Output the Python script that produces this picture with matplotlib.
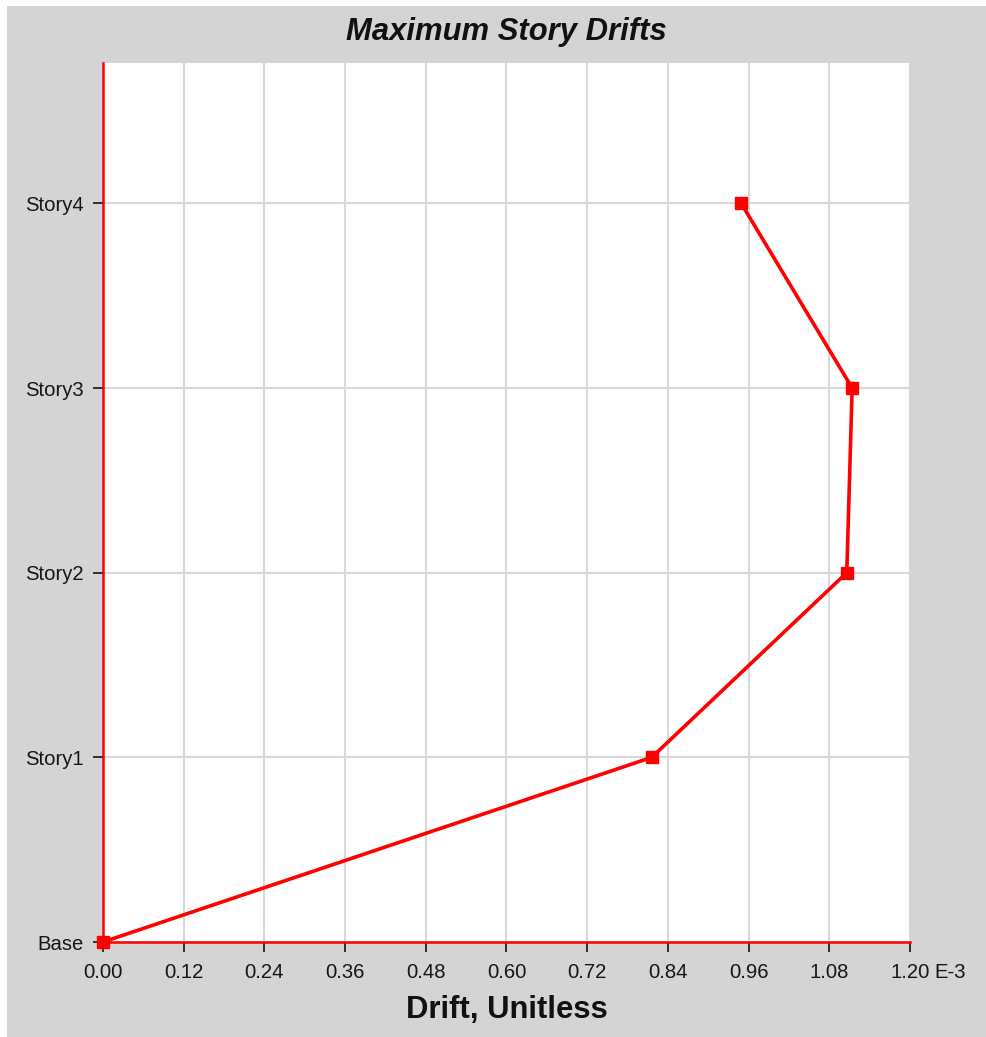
import matplotlib
matplotlib.use("Agg")
import matplotlib.pyplot as plt
from matplotlib.patches import Rectangle

plt.rcParams['font.family'] = ['Liberation Sans', 'DejaVu Sans']

# Data
stories = ["Base", "Story1", "Story2", "Story3", "Story4"]
drift = [0.0, 0.816, 1.106, 1.114, 0.949]   # x 1E-3
x_ticks = [0.00, 0.12, 0.24, 0.36, 0.48, 0.60, 0.72, 0.84, 0.96, 1.08, 1.20]
x_tick_labels = ["0.00", "0.12", "0.24", "0.36", "0.48", "0.60", "0.72", "0.84", "0.96", "1.08", "1.20"]
title = "Maximum Story Drifts"
x_label = "Drift, Unitless"
x_unit = "E-3"

W, H = 987, 1037
fig = plt.figure(figsize=(W / 100, H / 100), dpi=100)
fig.patch.set_facecolor("white")
bg = "#d4d4d4"
rect = Rectangle((7 / W, 0), 1, 1 - 6 / H, transform=fig.transFigure,
                 facecolor=bg, edgecolor="none", zorder=-10)
fig.add_artist(rect)

L, R, T, B = 103, 910, 63, 942
ax = fig.add_axes([L / W, 1 - B / H, (R - L) / W, (B - T) / H])
ax.set_zorder(5)
ax.set_facecolor("white")

levels = list(range(len(stories)))
ax.plot(drift, levels, color="#ff0000", lw=2.6, marker="s", ms=8.5,
        mec="#ff0000", mfc="#ff0000", zorder=5, clip_on=False)

ax.set_xlim(0, 1.2)
ax.set_ylim(0, 4.76)
ax.set_xticks(x_ticks)
ax.set_xticklabels(x_tick_labels)
ax.set_yticks(levels)
ax.set_yticklabels(stories)

ax.grid(True, color="#d9d9d9", lw=1.5, zorder=0)
ax.set_axisbelow(True)

for s in ["top", "right"]:
    ax.spines[s].set_visible(False)
for s in ["left", "bottom"]:
    ax.spines[s].set_color("#ff0000")
    ax.spines[s].set_linewidth(1.8)
    ax.spines[s].set_zorder(4)

ax.tick_params(axis="both", direction="out", length=7, width=1.3, color="#222222",
               labelsize=14.6, labelcolor="#161616")
ax.tick_params(axis="x", pad=8)
ax.tick_params(axis="y", pad=7)

ax.annotate(x_unit, xy=(1.2, 0), xycoords=("data", "axes fraction"),
            xytext=(17.5, -15), textcoords="offset points",
            ha="left", va="top", fontsize=14.6, color="#161616")

fig.text((L + R) / 2 / W, 1 - 32 / H, title, ha="center", va="center",
         fontsize=22.3, fontweight="bold", fontstyle="italic", color="#111111")
fig.text((L + R) / 2 / W, 1 - 1010 / H, x_label, ha="center", va="center",
         fontsize=22.3, fontweight="bold", color="#111111")

fig.savefig("out.png", dpi=100, facecolor=fig.get_facecolor())
